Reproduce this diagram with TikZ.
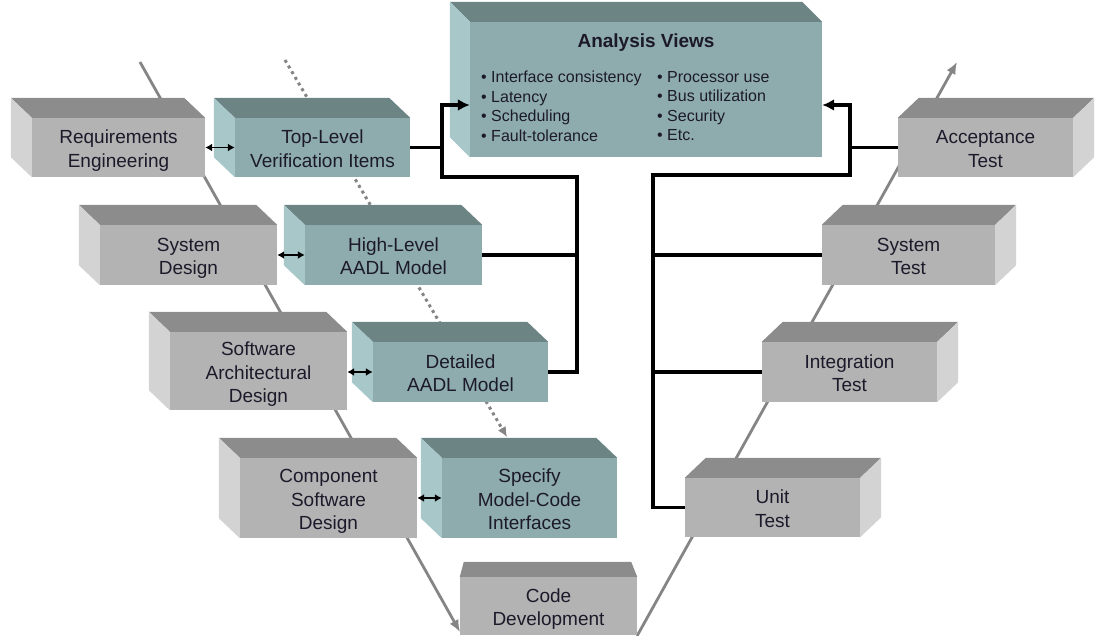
\documentclass[tikz,border=0pt]{standalone}
\usepackage{fontspec}
\setmainfont{Liberation Sans}
\usetikzlibrary{calc,arrows.meta}
\definecolor{gfront}{HTML}{B3B3B3}
\definecolor{gtop}{HTML}{8C8C8C}
\definecolor{gside}{HTML}{D3D3D3}
\definecolor{tfront}{HTML}{8EACAD}
\definecolor{ttop}{HTML}{6D8485}
\definecolor{tside}{HTML}{A7C7C9}
\definecolor{vgray}{HTML}{858585}
\definecolor{txt}{HTML}{1C1A2A}
\newcommand\extL[3]{%
  \fill[#2] (#1.north west) -- ++(-21,-20) -- ($(#1.north east)+(-21,-20)$) -- (#1.north east) -- cycle;
  \fill[#3] (#1.north west) -- ++(-21,-20) -- ($(#1.south west)+(-21,-20)$) -- (#1.south west) -- cycle;}
\newcommand\extR[3]{%
  \fill[#2] (#1.north west) -- ++(21,-20) -- ($(#1.north east)+(21,-20)$) -- (#1.north east) -- cycle;
  \fill[#3] (#1.north east) -- ++(21,-20) -- ($(#1.south east)+(21,-20)$) -- (#1.south east) -- cycle;}
\newcommand\bt[1]{\raisebox{-3.5pt}[\height][\depth]{\begin{tabular}{@{}c@{}}#1\end{tabular}}}
\tikzset{
  box/.style={rectangle, inner sep=0pt, align=center, text=txt,
    font=\fontsize{19}{23.5}\selectfont},
  gbox/.style={box, fill=gfront},
  tbox/.style={box, fill=tfront},
  conn/.style={line width=3.2pt, black},
  bigarrow/.style={-{Latex[length=12pt,width=12pt]}},
  darr/.style={line width=1.8pt, black, {Latex[length=7pt,width=8pt]}-{Latex[length=7pt,width=8pt]}},
  vline/.style={line width=2.8pt, vgray},
  dotline/.style={line width=3pt, vgray, dash pattern=on 3pt off 3.6pt},
  bul/.style={inner sep=0pt, align=left, text=txt, font=\fontsize{16}{19.5}\selectfont},
}
\begin{document}
\begin{tikzpicture}[x=1pt,y=-1pt]
\useasboundingbox (0,0) rectangle (1097,635);
% V lines
\coordinate (v1) at (140,62);
\coordinate (v2) at (460,632);
\coordinate (v3) at (637,636);
\coordinate (v4) at (957,62);
\coordinate (d1) at (285,60);
\coordinate (d2) at (507,437);
\draw[vline, -{Latex[length=12pt,width=10pt]}] (v1) -- (v2);
\draw[vline, -{Latex[length=12pt,width=10pt]}] (v3) -- (v4);
\draw[dotline] (d1) -- ($(d2)!10pt!(d1)$) coordinate (d3);
\draw[line width=1.5pt, vgray, -{Latex[length=10pt,width=9pt]}] (d3) -- (d2);
% left column
\node[gbox, minimum width=173, minimum height=59] (req) at (118.5,147.5) {\bt{Requirements\\Engineering}};
\extL{req}{gtop}{gside}
\node[tbox, minimum width=175, minimum height=59] (tlv) at (322.5,147.5) {\bt{Top-Level\\Verification Items}};
\extL{tlv}{ttop}{tside}
\node[gbox, minimum width=177, minimum height=60] (sysd) at (188.5,255) {\bt{System\\Design}};
\extL{sysd}{gtop}{gside}
\node[tbox, minimum width=177, minimum height=60] (hl) at (393.5,255) {\bt{High-Level\\AADL Model}};
\extL{hl}{ttop}{tside}
\node[gbox, minimum width=177, minimum height=78] (swa) at (258.5,371) {\bt{Software\\Architectural\\Design}};
\extL{swa}{gtop}{gside}
\node[tbox, minimum width=175, minimum height=60] (det) at (460.5,372) {\bt{Detailed\\AADL Model}};
\extL{det}{ttop}{tside}
\node[gbox, minimum width=177, minimum height=80] (csd) at (328.5,498) {\bt{Component\\Software\\Design}};
\extL{csd}{gtop}{gside}
\node[tbox, minimum width=175, minimum height=80] (spec) at (529.5,498) {\bt{Specify\\Model-Code\\Interfaces}};
\extL{spec}{ttop}{tside}
% code development
\node[gbox, minimum width=177, minimum height=58] (code) at (548.5,606) {\bt{Code\\Development}};
\fill[gtop] (code.north west) -- ++(4,-15) -- ($(code.north east)+(-6,-15)$) -- (code.north east) -- cycle;
% right column
\node[gbox, minimum width=175, minimum height=59] (acc) at (985.5,147.5) {\bt{Acceptance\\Test}};
\extR{acc}{gtop}{gside}
\node[gbox, minimum width=173, minimum height=60] (syst) at (908.5,255) {\bt{System\\Test}};
\extR{syst}{gtop}{gside}
\node[gbox, minimum width=175, minimum height=60] (integ) at (849.5,372) {\bt{Integration\\Test}};
\extR{integ}{gtop}{gside}
\node[gbox, minimum width=175, minimum height=59] (unit) at (772.5,507.5) {\bt{Unit\\Test}};
\extR{unit}{gtop}{gside}
% analysis views
\node[tbox, minimum width=352, minimum height=135] (anal) at (646,89.5) {};
\fill[ttop] (anal.north west) -- ++(-20,-20) -- ($(anal.north east)+(-20,-20)$) -- (anal.north east) -- cycle;
\fill[tside] (anal.north west) -- ++(-20,-20) -- ($(anal.south west)+(-20,-20)$) -- (anal.south west) -- cycle;
\node[box, font=\fontsize{19}{23}\selectfont\bfseries] (avt) at (646,42.5) {Analysis Views};
\node[bul, anchor=north west] (avl) at (481,71) {• Interface consistency\\• Latency\\• Scheduling\\• Fault-tolerance};
\node[bul, anchor=north west] (avr) at (657,71) {• Processor use\\• Bus utilization\\• Security\\• Etc.};
% connectors left
\coordinate (a1) at (442,105);
\coordinate (a2) at (442,177);
\coordinate (a3) at (577,177);
\draw[conn] (a1) -- (a2) -- (a3) |- (det.east);
\draw[conn] (tlv.east) -- (tlv.east -| a1);
\draw[conn] (hl.east) -- (hl.east -| a3);
\draw[conn, bigarrow] ([xshift=-1.6pt]a1) -- (a1 -| anal.west);
% connectors right
\coordinate (b1) at (850,105);
\coordinate (b2) at (850,175);
\coordinate (b3) at (653,175);
\draw[conn] (b1) -- (b2) -- (b3) |- (unit.west);
\draw[conn] (acc.west) -- (acc.west -| b1);
\draw[conn] (syst.west) -- (syst.west -| b3);
\draw[conn] (integ.west) -- (integ.west -| b3);
\draw[conn, bigarrow] ([xshift=1.6pt]b1) -- (b1 -| anal.east);
% double arrows
\draw[darr] (req.east) -- (tlv.west);
\draw[darr] (sysd.east) -- (hl.west);
\draw[darr] (det.west -| swa.east) -- (det.west);
\draw[darr] (csd.east) -- (spec.west);
\end{tikzpicture}
\end{document}
